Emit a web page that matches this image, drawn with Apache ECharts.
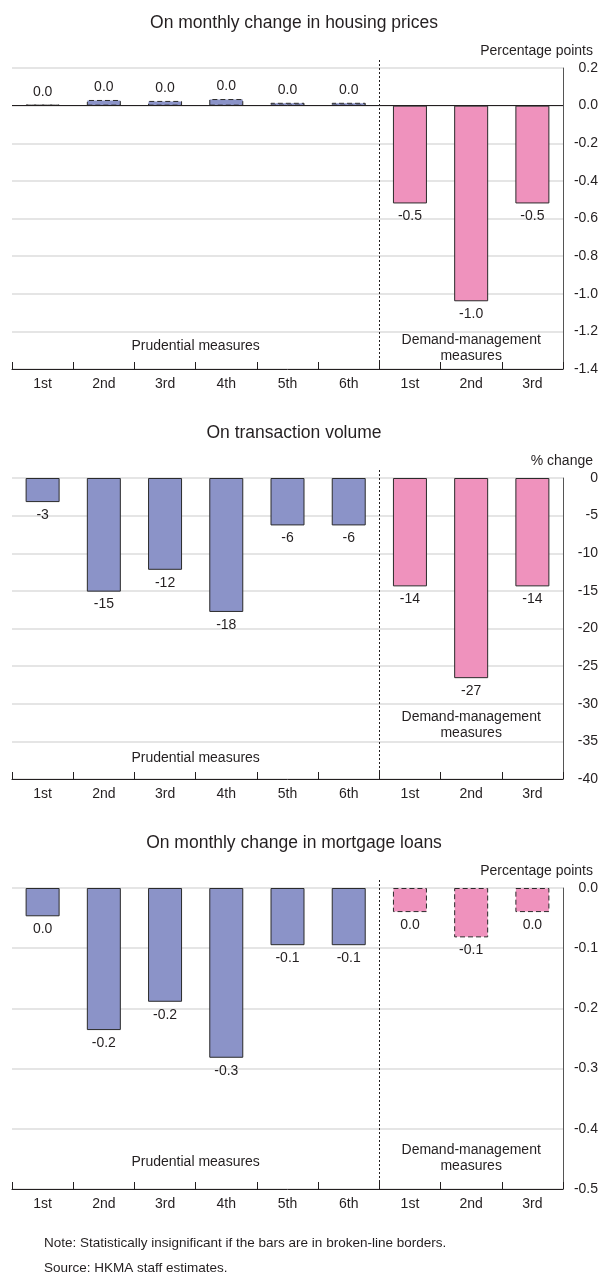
<!DOCTYPE html>
<html>
<head>
<meta charset="utf-8">
<script src="https://cdn.jsdelivr.net/npm/echarts@6/dist/echarts.min.js"></script>
<style>
  html, body { margin: 0; padding: 0; background: #fff; }
  #chart { width: 601px; height: 1274px; }
</style>
</head>
<body>
<div id="chart"></div>
<script>
const categories = ["1st", "2nd", "3rd", "4th", "5th", "6th", "1st", "2nd", "3rd"];
const measureGroup = ["P", "P", "P", "P", "P", "P", "D", "D", "D"];

const housingValues = [0.005, 0.03, 0.025, 0.035, 0.015, 0.015, -0.52, -1.04, -0.52];
const housingDashed = [true, true, true, true, true, true, false, false, false];

const volumeValues = [-3.2, -15.1, -12.2, -17.8, -6.3, -6.3, -14.4, -26.6, -14.4];
const volumeDashed = [false, false, false, false, false, false, false, false, false];

const mortgageValues = [-0.047, -0.236, -0.189, -0.282, -0.095, -0.095, -0.04, -0.082, -0.04];
const mortgageDashed = [false, false, false, false, false, false, true, true, true];

const panelTitles = ["On monthly change in housing prices", "On transaction volume", "On monthly change in mortgage loans"];
const unitLabels = ["Percentage points", "% change", "Percentage points"];

const FONT = "'Liberation Sans', Arial, Helvetica, sans-serif";
const TEXT = "#231f20";
const BLUE = "#8b93c8";
const PINK = "#ef92bd";
const FS = 14;

const panels = [
  { values: housingValues, dashed: housingDashed, min: -1.4, max: 0.2, interval: 0.2, fmt: v => fix1(v), top: 68, zeroLine: true,
    prudY: -1.28, demandY: -1.29 },
  { values: volumeValues, dashed: volumeDashed, min: -40, max: 0, interval: 5, fmt: v => String(Math.round(v)), top: 478, zeroLine: false,
    prudY: -37.2, demandY: -32.8 },
  { values: mortgageValues, dashed: mortgageDashed, min: -0.5, max: 0, interval: 0.1, fmt: v => fix1(v), top: 888, zeroLine: false,
    prudY: -0.455, demandY: -0.449 }
];

function fix1(v) {
  const s = Number(v).toFixed(1);
  return s === "-0.0" ? "0.0" : s;
}

const PLOT_H = 301;
const container = document.getElementById("chart");
const chart = echarts.init(container, null, { renderer: "canvas" });

const option = {
  animation: false,
  textStyle: { fontFamily: FONT },
  title: [],
  grid: [],
  xAxis: [],
  yAxis: [],
  series: []
};

panels.forEach((p, i) => {
  option.title.push({
    text: panelTitles[i], left: 289, top: p.top - 59, textAlign: "center",
    textStyle: { fontFamily: FONT, fontSize: 17.5, fontWeight: "normal", color: TEXT }
  });
  option.title.push({
    text: unitLabels[i], right: 3, top: p.top - 29,
    textStyle: { fontFamily: FONT, fontSize: FS, fontWeight: "normal", color: TEXT }
  });
  option.grid.push({ left: 12, right: 38, top: p.top, height: PLOT_H, containLabel: false });
  option.xAxis.push({
    type: "category", gridIndex: i, data: categories, position: "bottom",
    axisLine: { onZero: false, lineStyle: { color: "#231f20", width: 1 } },
    axisTick: { show: true, inside: true, length: 7, alignWithLabel: false, lineStyle: { color: "#231f20" } },
    axisLabel: { color: TEXT, fontSize: FS, fontFamily: FONT, margin: 8, interval: 0 },
    splitLine: { show: false }
  });
  option.yAxis.push({
    type: "value", gridIndex: i, position: "right", min: p.min, max: p.max, interval: p.interval,
    axisLine: { show: true, lineStyle: { color: "#555", width: 1 } },
    axisTick: { show: false },
    axisLabel: { color: TEXT, fontSize: FS, fontFamily: FONT, margin: 35, align: "right", formatter: v => p.fmt(v) },
    splitLine: { show: true, lineStyle: { color: "#dcdcdc", width: 1.5 } }
  });
  option.series.push({
    type: "bar", xAxisIndex: i, yAxisIndex: i, barWidth: 34,
    data: p.values.map((v, k) => ({
      value: v,
      itemStyle: {
        color: measureGroup[k] === "P" ? BLUE : PINK,
        borderColor: "#2b2b2b",
        borderWidth: 1,
        borderType: p.dashed[k] ? [5, 3] : "solid"
      },
      label: { position: v >= 0 ? "top" : "bottom" }
    })),
    label: {
      show: true, distance: 6, color: TEXT, fontSize: FS, fontFamily: FONT,
      formatter: params => p.fmt(params.value)
    },
    markLine: p.zeroLine ? {
      silent: true, symbol: "none", label: { show: false },
      lineStyle: { color: "#231f20", type: "solid", width: 1 },
      data: [{ yAxis: 0 }]
    } : undefined,
    z: 3
  });
});

chart.setOption(option);

// separators and group captions, placed through the axes
const graphics = [];
panels.forEach((p, i) => {
  const finder = { xAxisIndex: i, yAxisIndex: i };
  const c5 = chart.convertToPixel(finder, [5, 0]);
  const c6 = chart.convertToPixel(finder, [6, 0]);
  const sepX = Math.round((c5[0] + c6[0]) / 2) + 0.5;
  const yTop = chart.convertToPixel(finder, [0, p.max])[1];
  const yBot = chart.convertToPixel(finder, [0, p.min])[1];
  graphics.push({
    type: "line", silent: true, z: 10,
    shape: { x1: sepX, y1: yTop - 8, x2: sepX, y2: yBot },
    style: { stroke: "#231f20", lineWidth: 1, lineDash: [2, 2] }
  });
  const c2 = chart.convertToPixel(finder, [2, p.prudY]);
  const c3 = chart.convertToPixel(finder, [3, p.prudY]);
  graphics.push({
    type: "text", silent: true, z: 10,
    x: (c2[0] + c3[0]) / 2, y: c2[1],
    style: { text: "Prudential measures", fill: TEXT, font: FS + "px " + FONT, textAlign: "center", textVerticalAlign: "middle" }
  });
  const c7 = chart.convertToPixel(finder, [7, p.demandY]);
  graphics.push({
    type: "text", silent: true, z: 10,
    x: c7[0], y: c7[1],
    style: { text: "Demand-management\nmeasures", fill: TEXT, font: FS + "px " + FONT, textAlign: "center", textVerticalAlign: "middle", lineHeight: 16 }
  });
});
graphics.push({
  type: "text", silent: true, left: 44, top: 1236,
  style: { text: "Note: Statistically insignificant if the bars are in broken-line borders.", fill: TEXT, font: "13.5px " + FONT }
});
graphics.push({
  type: "text", silent: true, left: 44, top: 1261,
  style: { text: "Source: HKMA staff estimates.", fill: TEXT, font: "13.5px " + FONT }
});
chart.setOption({ graphic: graphics });
</script>
</body>
</html>
